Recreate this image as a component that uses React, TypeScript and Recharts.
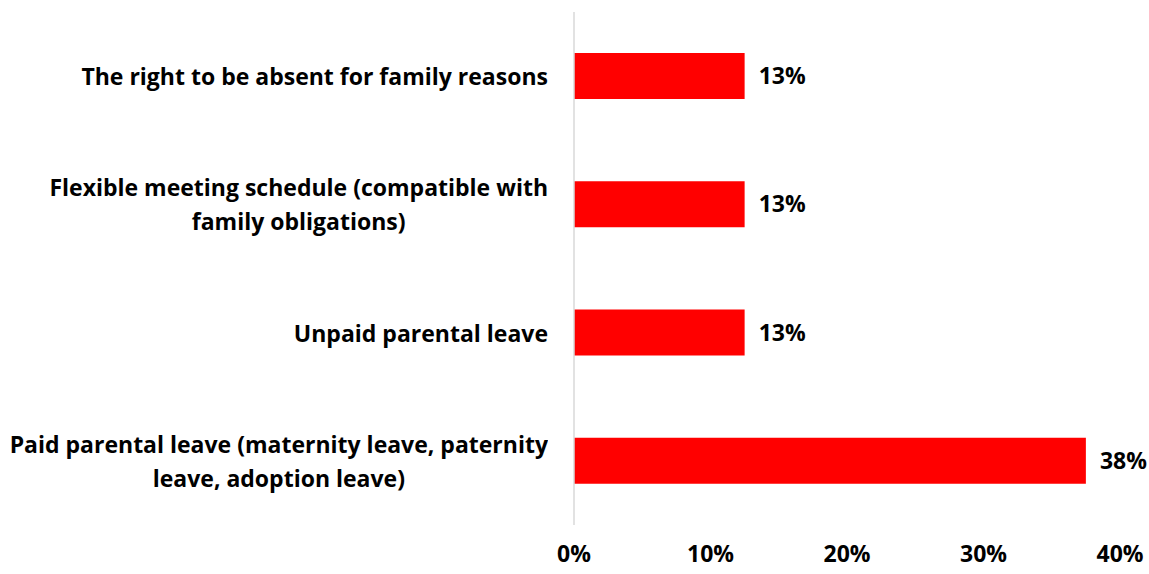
import { BarChart, Bar, XAxis, YAxis, LabelList } from "recharts"

const categories = [
  "The right to be absent for family reasons",
  "Flexible meeting schedule (compatible with\nfamily obligations)",
  "Unpaid parental leave",
  "Paid parental leave (maternity leave, paternity\nleave, adoption leave)",
]
const shares = [12.5, 12.5, 12.5, 37.5]
const xTicks = [0, 10, 20, 30, 40]

const data = categories.map((name, i) => ({ name, value: shares[i] }))

const FONT = "'Open Sans', Lato, sans-serif"

const CategoryTick = ({ y, payload }: any) => {
  const lines = String(payload.value).split("\n")
  return (
    <foreignObject x={0} y={y - 40} width={548} height={80}>
      <div
        style={{
          height: 80,
          display: "flex",
          alignItems: "center",
          justifyContent: "flex-end",
        }}
      >
        <div
          style={{
            textAlign: "center",
            fontFamily: FONT,
            fontWeight: 700,
            fontSize: 23,
            lineHeight: "34px",
            color: "#000",
            whiteSpace: "nowrap",
          }}
        >
          {lines.map((l, i) => (
            <div key={i}>{l}</div>
          ))}
        </div>
      </div>
    </foreignObject>
  )
}

export default function App() {
  return (
    <div style={{ position: "fixed", left: 0, top: 0, background: "#fff" }}>
      <BarChart
        width={1149}
        height={574}
        data={data}
        layout="vertical"
        margin={{ top: 12, right: 29, left: 0, bottom: 0 }}
      >
        <XAxis
          type="number"
          domain={[0, 40]}
          ticks={xTicks}
          tickFormatter={(v) => `${v}%`}
          axisLine={false}
          tickLine={false}
          height={49}
          tick={{ fill: "#000", fontSize: 23, fontWeight: 700, fontFamily: FONT }}
          tickMargin={15}
          interval={0}
        />
        <YAxis
          type="category"
          dataKey="name"
          width={574}
          axisLine={{ stroke: "#d9d9d9", strokeWidth: 1.5 }}
          tickLine={false}
          tick={<CategoryTick />}
          interval={0}
        />
        <Bar dataKey="value" fill="#ff0000" barSize={46} isAnimationActive={false}>
          <LabelList
            dataKey="value"
            position="right"
            offset={14}
            formatter={(v: any) => `${Math.round(Number(v))}%`}
            style={{ fill: "#000", fontSize: 23, fontWeight: 700, fontFamily: FONT }}
          />
        </Bar>
      </BarChart>
    </div>
  )
}
